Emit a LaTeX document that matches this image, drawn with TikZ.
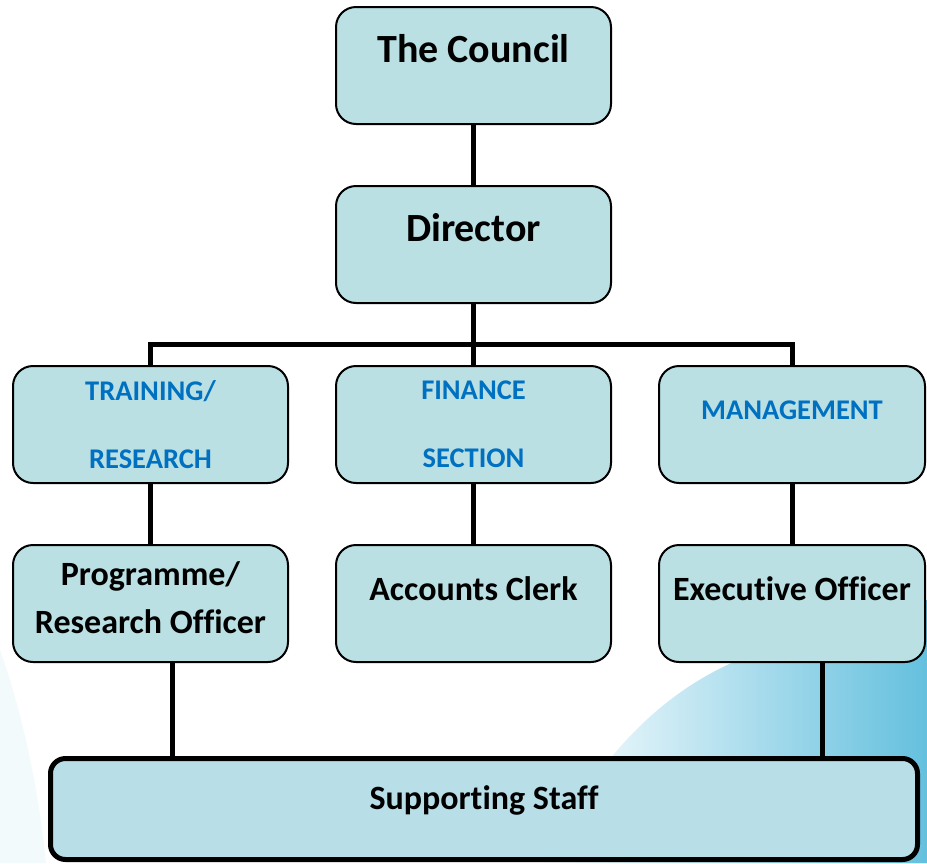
\documentclass[tikz,border=0pt]{standalone}
\usepackage{fontspec}
\setmainfont{Carlito}[Ligatures=NoCommon]
\usetikzlibrary{positioning, backgrounds}

\definecolor{boxfill}{RGB}{186,224,228}
\definecolor{stafffill}{RGB}{184,222,232}
\definecolor{unitblue}{RGB}{0,112,192}
\definecolor{swoosh}{RGB}{100,192,222}

\begin{document}
\begin{tikzpicture}[
    x=1pt, y=1pt,
    node distance=60pt and 46pt,
    box/.style={rectangle, draw=black, line width=2pt, fill=boxfill, rounded corners=20pt, minimum width=275pt, minimum height=117pt, inner sep=0pt, align=center},
    head/.style={box, font=\fontsize{40}{48}\selectfont\bfseries, text height=28pt, text depth=34pt},
    unit/.style={box, font=\fontsize{28.5}{34}\selectfont\bfseries, text=unitblue},
    post/.style={box, font=\fontsize{34}{48}\selectfont\bfseries},
    oneline/.style={text height=24pt, text depth=31pt},
    staffbox/.style={rectangle, draw=black, line width=5pt, fill=stafffill, rounded corners=15pt, minimum width=867pt, minimum height=101pt, inner sep=0pt, font=\fontsize{34}{41}\selectfont\bfseries, text height=24pt, text depth=24pt},
    link/.style={line width=5pt}
]

\useasboundingbox (0,0) rectangle (927,-863);

% Top of the chart
\node[head] (council) at (473.5,-65.5) {The Council};
\node[head, below=of council] (director) {Director};

% Sections
\node[unit, below=61pt of director] (finance) {FINANCE\\[34pt]SECTION};
\node[unit, left=of finance] (training) {TRAINING/\\[34pt]RESEARCH};
\node[unit, right=of finance, minimum width=266pt, text height=20pt, text depth=31pt] (management) {MANAGEMENT};

% Officers
\node[post, oneline, below=of finance] (accounts) {Accounts Clerk};
\node[post, below=of training, text depth=12pt] (programme) {Programme/\\Research Officer};
\node[post, oneline, below=of management, minimum width=266pt] (executive) {Executive Officer};

% Supporting staff
\node[staffbox, below=93pt of accounts, xshift=10.5pt] (staff) {Supporting Staff};

% Feet of the lines to the staff box
\coordinate (progfoot) at ([xshift=22pt]programme.south);
\coordinate (execfoot) at ([xshift=30pt]executive.south);

% Lines
\draw[link] (council.south) -- (director.north);
\draw[link] (director.south) -- (finance.north);
\draw[link] (director.south) -- ++(0,-40) -| (training.north);
\draw[link] (director.south) -- ++(0,-40) -| (management.north);
\draw[link] (training.south) -- (programme.north);
\draw[link] (finance.south) -- (accounts.north);
\draw[link] (management.south) -- (executive.north);
\draw[link] (progfoot) -- (progfoot |- staff.north);
\draw[link] (execfoot) -- (execfoot |- staff.north);

% Background swoosh
\begin{scope}[on background layer]
    \shade[left color=white, right color=swoosh] (540,-863) .. controls (600,-760) and (660,-680) .. (780,-645) -- (927,-600) -- (927,-863) -- cycle;
    \fill[swoosh!8] (0,-650) .. controls (25,-720) and (40,-800) .. (46,-863) -- (0,-863) -- cycle;
\end{scope}

\end{tikzpicture}
\end{document}
